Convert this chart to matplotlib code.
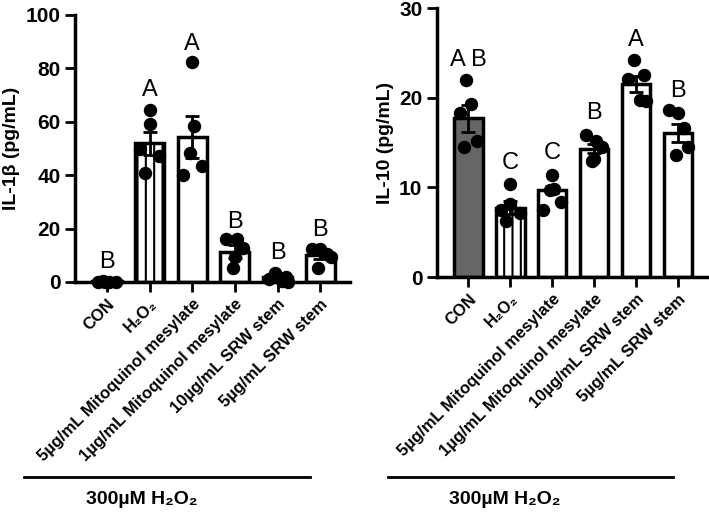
import numpy as np
import matplotlib.pyplot as plt

plt.rcParams['font.family'] = ['Liberation Sans', 'DejaVu Sans']
plt.rcParams['hatch.linewidth'] = 1.5

groups = ['CON', 'H\u2082O\u2082', '5\u00b5g/mL Mitoquinol mesylate', '1\u00b5g/mL Mitoquinol mesylate',
          '10\u00b5g/mL SRW stem', '5\u00b5g/mL SRW stem']

# IL-1beta (pg/mL)
il1b_mean = [0.3, 52, 54.4, 11.4, 1.8, 10]
il1b_sem = [0.2, 4.3, 7.9, 2.5, 0.7, 1.5]
il1b_pts = [[0, 0, 0, 0, 0.5],
            [64.4, 59.2, 49.7, 47, 41],
            [82.5, 58.4, 48.4, 43.6, 40],
            [16, 16, 12.6, 9.5, 5.4],
            [3.3, 2, 1, 0.5, 0],
            [12.5, 12.5, 10.5, 9.5, 5.1]]
il1b_letters = ['B', 'A', 'A', 'B', 'B', 'B']
il1b_letter_y = [7.6, 72, 89, 22.6, 10.7, 19.5]

# IL-10 (pg/mL)
il10_mean = [17.7, 7.75, 9.75, 14.3, 21.5, 16.1]
il10_sem = [1.5, 0.75, 0.4, 0.5, 0.9, 1.0]
il10_pts = [[22, 19.3, 18.3, 15.2, 14.5],
            [10.4, 8.1, 7.45, 7.1, 6.26],
            [11.4, 9.8, 9.7, 8.4, 7.45],
            [15.9, 15.2, 14.5, 13.2, 12.9],
            [24.2, 22.5, 22.1, 19.75, 19.7],
            [18.6, 18.3, 16.6, 14.5, 13.6]]
il10_letters = ['A B', 'C', 'C', 'B', 'A', 'B']
il10_letter_y = [24.2, 12.7, 13.8, 18.3, 26.5, 20.8]

# horizontal offsets of the dots inside each bar
jitter = [[-0.05, 0.05, -0.2, 0.2, -0.1],
          [0.0, 0.0, -0.22, 0.22, -0.1],
          [0.0, 0.05, -0.05, 0.22, -0.22],
          [-0.2, 0.05, 0.2, 0.0, -0.05],
          [-0.05, 0.2, -0.2, 0.1, 0.25],
          [-0.2, 0.0, 0.15, 0.25, -0.05]]

fig = plt.figure(figsize=(7.09, 5.14), dpi=100)
ax1 = fig.add_axes([0.1058, 0.4514, 0.388, 0.5195])
ax2 = fig.add_axes([0.6164, 0.461, 0.381, 0.523])

LW = 2.5


def panel(ax, mean, sem, pts, letters, letter_y, ymax, step, ylabel, con_color):
    x = np.arange(len(groups))
    for i in range(len(groups)):
        fc = con_color if i == 0 else 'white'
        hatch = '||' if i == 1 else None
        ax.bar(x[i], mean[i], width=0.68, color=fc, edgecolor='black', linewidth=LW,
               hatch=hatch, zorder=2)
        ax.errorbar(x[i], mean[i], yerr=sem[i], color='black', capsize=5, elinewidth=2,
                    capthick=2, zorder=3)
        ax.scatter(x[i] + np.array(jitter[i]), pts[i], s=75, color='black', zorder=4,
                   clip_on=False)
        ax.text(x[i], letter_y[i], letters[i], ha='center', va='center', fontsize=17)
    ax.set_xlim(-0.75, 5.7)
    ax.set_ylim(0, ymax)
    yt = np.arange(0, ymax + 1, step)
    ax.set_yticks(yt, [str(v) for v in yt], fontsize=15, fontweight='bold')
    ax.spines['top'].set_visible(False)
    ax.spines['right'].set_visible(False)
    ax.spines['left'].set_linewidth(LW)
    ax.spines['bottom'].set_linewidth(LW)
    ax.tick_params(width=2, length=7)
    ax.set_xticks(x, groups, rotation=45, ha='right', rotation_mode='anchor',
                  fontsize=12, fontweight='bold')
    ax.set_ylabel(ylabel, fontsize=14, fontweight='bold')


panel(ax1, il1b_mean, il1b_sem, il1b_pts, il1b_letters, il1b_letter_y, 100, 20,
      'IL-1\u03b2 (pg/mL)', '#666666')
panel(ax2, il10_mean, il10_sem, il10_pts, il10_letters, il10_letter_y, 30, 10,
      'IL-10 (pg/mL)', '#666666')

# treatment bracket below each panel
for x0, x1, xt in [(24, 310, 142), (388, 673, 505)]:
    fig.add_artist(plt.Line2D([x0 / 709, x1 / 709], [1 - 477 / 514] * 2, color='black',
                              linewidth=2))
    fig.text(xt / 709, 1 - 500 / 514, '300\u00b5M H\u2082O\u2082', ha='center', va='center',
             fontsize=14, fontweight='bold')

fig.savefig('out.png', dpi=100)
